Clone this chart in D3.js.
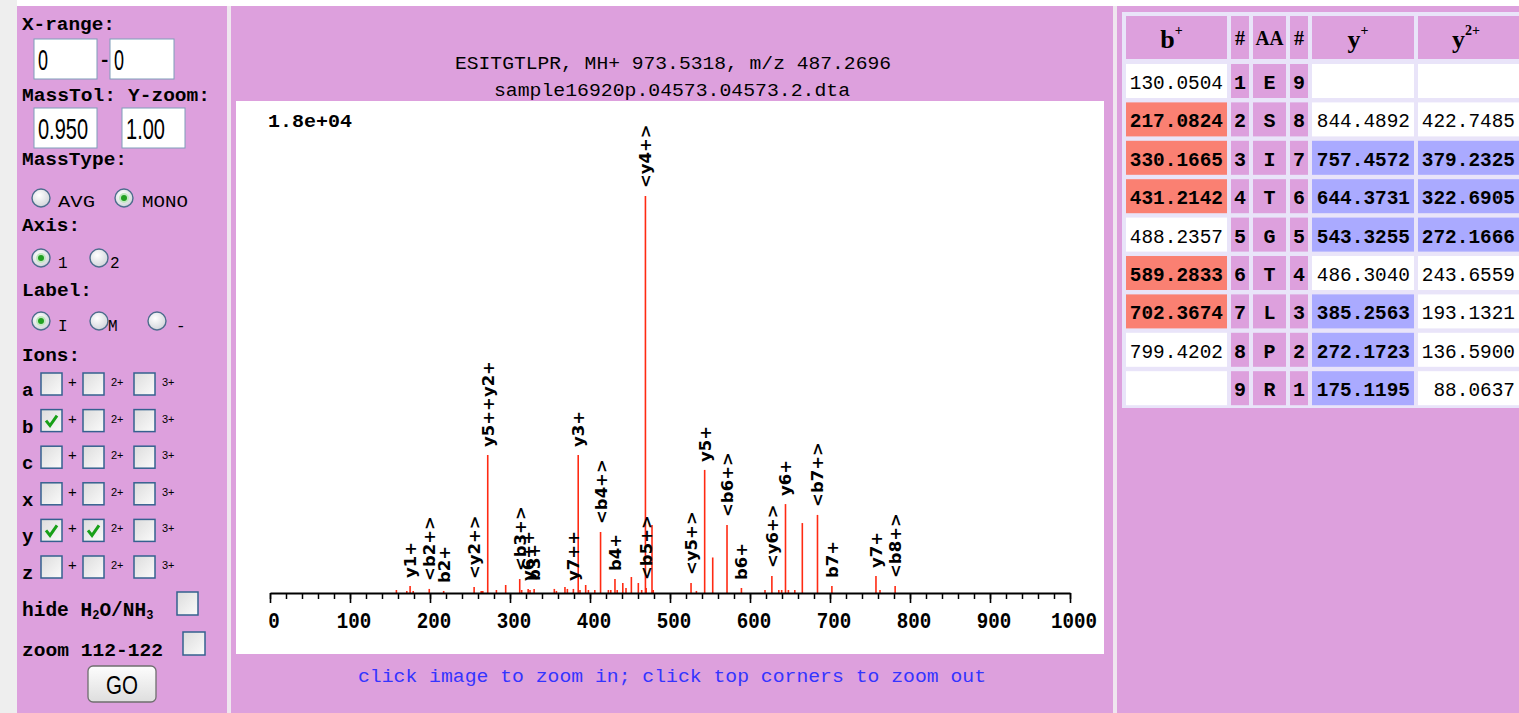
<!DOCTYPE html>
<html>
<head>
<meta charset="utf-8">
<script src="https://cdn.jsdelivr.net/npm/d3@7"></script>
<style>
  body { margin: 0; background: #fff; overflow: hidden; }
  text { white-space: pre; }
</style>
</head>
<body>
<svg id="page" width="1519" height="713"></svg>
<script>
// spectrum peaks: m/z, intensity (counts), ion label ('' = none)
const peakMz = [158, 171, 175.12, 179, 199.07, 217.08, 255.15, 264, 266, 272.17,
  283, 294.6, 312.16, 314.6, 322.69, 325, 330.17, 355.4, 358, 368.7,
  371.7, 379.23, 385.26, 387.5, 394.6, 398, 406, 413.2, 423, 426,
  431.21, 434, 441, 445, 451.7, 460.4, 464.6, 469.29, 470.22, 477.5,
  479, 526.3, 533, 543.33, 553.4, 571.27, 589.28, 618.75, 627.35, 636,
  639.6, 644.37, 648, 656, 665.4, 684.36, 702.37, 757.46, 762.5, 781.41];
const peakInt = [110, 75, 260, 75, 150, 75, 220, 75, 75, 5090,
  110, 295, 515, 110, 150, 110, 150, 150, 75, 220,
  150, 150, 5090, 110, 295, 110, 110, 2250, 110, 110,
  515, 110, 370, 185, 590, 370, 110, 14640, 185, 2510,
  110, 370, 75, 4540, 1310, 2510, 185, 110, 625, 110,
  110, 3280, 110, 110, 2580, 2880, 260, 625, 110, 260];
const peakLabel = ['', '', 'y1+', '', '<b2+>', 'b2+', '<y2+>', '', '', 'y5++y2+',
  '', '', '<b3+>', '', 'y6++', '', 'b3+', '', '', '',
  '', 'y7++', 'y3+', '', '', '', '', '<b4+>', '', '',
  'b4+', '', '', '', '', '', '', '<y4+>', '<b5+>', '',
  '', '<y5+>', '', 'y5+', '', '<b6+>', 'b6+', '', '<y6+>', '',
  '', 'y6+', '', '', '', '<b7+>', 'b7+', 'y7+', '', '<b8+>'];
const xTicks = [0, 100, 200, 300, 400, 500, 600, 700, 800, 900, 1000];
const maxLabel = '1.8e+04';
const title1 = 'ESITGTLPR, MH+ 973.5318, m/z 487.2696';
const title2 = 'sample16920p.04573.04573.2.dta';
const hint = 'click image to zoom in; click top corners to zoom out';

// fragment table
const residues = ['E', 'S', 'I', 'T', 'G', 'T', 'L', 'P', 'R'];
const bIons = [130.0504, 217.0824, 330.1665, 431.2142, 488.2357, 589.2833, 702.3674, 799.4202, null];
const yIons = [null, 844.4892, 757.4572, 644.3731, 543.3255, 486.3040, 385.2563, 272.1723, 175.1195];
const y2Ions = [null, 422.7485, 379.2325, 322.6905, 272.1666, 243.6559, 193.1321, 136.5900, 88.0637];
const bHit = [0, 1, 1, 1, 0, 1, 1, 0, 0];
const yHit = [0, 0, 1, 1, 1, 0, 1, 1, 1];
const y2Hit = [0, 0, 1, 1, 1, 0, 0, 0, 0];

// form controls
const ionTypes = ['a', 'b', 'c', 'x', 'y', 'z'];
const ionChecked = [[0, 0, 0], [1, 0, 0], [0, 0, 0], [0, 0, 0], [1, 1, 0], [0, 0, 0]];

const PLUM = '#dda0dd';
const MONO = "'Liberation Mono', 'DejaVu Sans Mono', monospace";
const svg = d3.select('#page');

function txt(g, x, y, s, o = {}) {
  const t = g.append('text').attr('x', x).attr('y', y).text(s)
    .attr('font-family', o.family || MONO)
    .attr('font-size', o.size || 19)
    .attr('font-weight', o.bold ? 'bold' : 'normal')
    .attr('fill', o.fill || '#000')
    .attr('text-anchor', o.anchor || 'start');
  if (o.width) t.attr('textLength', o.width).attr('lengthAdjust', 'spacingAndGlyphs');
  return t;
}

// gradients
const defs = svg.append('defs');
const rg = defs.append('radialGradient').attr('id', 'radio').attr('cx', '40%').attr('cy', '35%').attr('r', '70%');
rg.append('stop').attr('offset', '0%').attr('stop-color', '#ffffff');
rg.append('stop').attr('offset', '100%').attr('stop-color', '#cfd3d8');
const cg = defs.append('linearGradient').attr('id', 'cbox').attr('x1', 0).attr('y1', 0).attr('x2', 1).attr('y2', 1);
cg.append('stop').attr('offset', '0%').attr('stop-color', '#dcdcdc');
cg.append('stop').attr('offset', '100%').attr('stop-color', '#fbfbfb');
const bg = defs.append('linearGradient').attr('id', 'btn').attr('x1', 0).attr('y1', 0).attr('x2', 0).attr('y2', 1);
bg.append('stop').attr('offset', '0%').attr('stop-color', '#fdfdfd');
bg.append('stop').attr('offset', '100%').attr('stop-color', '#dedede');

// page backgrounds
svg.append('rect').attr('width', 1519).attr('height', 713).attr('fill', '#fff');
svg.append('rect').attr('x', 0).attr('y', 0).attr('width', 17).attr('height', 713).attr('fill', '#eeeeee');
svg.append('rect').attr('x', 17).attr('y', 6).attr('width', 210).attr('height', 707).attr('fill', PLUM);
svg.append('rect').attr('x', 227).attr('y', 6).attr('width', 4).attr('height', 707).attr('fill', '#efe6ef');
svg.append('rect').attr('x', 231).attr('y', 6).attr('width', 882).attr('height', 707).attr('fill', PLUM);
svg.append('rect').attr('x', 1113).attr('y', 6).attr('width', 4).attr('height', 707).attr('fill', '#efe6ef');
svg.append('rect').attr('x', 1117).attr('y', 6).attr('width', 402).attr('height', 707).attr('fill', PLUM);

// ---------- left form ----------
const form = svg.append('g');
function radio(cx, cy, on) {
  form.append('circle').attr('cx', cx).attr('cy', cy).attr('r', 9)
    .attr('fill', 'url(#radio)').attr('stroke', '#4d6d8d').attr('stroke-width', 1.4);
  if (on) {
    form.append('circle').attr('cx', cx).attr('cy', cy).attr('r', 5).attr('fill', '#bfe8bf');
    form.append('circle').attr('cx', cx).attr('cy', cy).attr('r', 3).attr('fill', '#22a022');
  }
}
function checkbox(x, y, on, w = 21, h = 22) {
  form.append('rect').attr('x', x).attr('y', y).attr('width', w).attr('height', h)
    .attr('fill', 'url(#cbox)').attr('stroke', '#35618f').attr('stroke-width', 1.5);
  if (on) {
    form.append('path').attr('d', `M${x + 5},${y + 11} L${x + 9},${y + 16} L${x + 16},${y + 6}`)
      .attr('fill', 'none').attr('stroke', '#18a018').attr('stroke-width', 3);
  }
}
function input(x, y, w, h, s, tw) {
  form.append('rect').attr('x', x).attr('y', y).attr('width', w).attr('height', h)
    .attr('fill', '#fff').attr('stroke', '#7f9db9').attr('stroke-width', 1);
  txt(form, x + 4, y + h / 2 + 11, s, { family: "'Liberation Sans', Arial, sans-serif", size: 30, width: tw });
}

txt(form, 22, 30, 'X-range:', { bold: true, width: 93 });
input(34, 39, 63, 40, '0', 10);
txt(form, 99, 66, '-', { bold: true, size: 19 });
input(110, 39, 64, 40, '0', 10);
txt(form, 22, 101, 'MassTol:', { bold: true, width: 94 });
txt(form, 128, 101, 'Y-zoom:', { bold: true, width: 82 });
input(34, 108, 63, 40, '0.950', 50);
input(122, 108, 63, 40, '1.00', 39);
txt(form, 22, 165, 'MassType:', { bold: true, width: 105 });
radio(41, 198, false); txt(form, 58, 207, 'AVG', { size: 16, width: 37 });
radio(124, 198, true); txt(form, 142, 207, 'MONO', { size: 16, width: 46 });
txt(form, 22, 231, 'Axis:', { bold: true, width: 58 });
radio(41, 258, true); txt(form, 58, 268, '1', { size: 16 });
radio(99, 258, false); txt(form, 110, 268, '2', { size: 16 });
txt(form, 22, 296, 'Label:', { bold: true, width: 70 });
radio(41, 321, true); txt(form, 58, 331, 'I', { size: 16 });
radio(99, 321, false); txt(form, 108, 331, 'M', { size: 16 });
radio(157, 321, false); txt(form, 176, 331, '-', { size: 16 });
txt(form, 22, 361, 'Ions:', { bold: true, width: 58 });

ionTypes.forEach((t, i) => {
  const top = 373 + i * 36.6;
  txt(form, 22, top + 23, t, { bold: true });
  checkbox(41, top, ionChecked[i][0]);
  txt(form, 68, top + 14, '+', { family: "'Liberation Sans', Arial, sans-serif", size: 15 });
  checkbox(83, top, ionChecked[i][1]);
  txt(form, 111, top + 13, '2+', { family: "'Liberation Sans', Arial, sans-serif", size: 11 });
  checkbox(134, top, ionChecked[i][2]);
  txt(form, 162, top + 13, '3+', { family: "'Liberation Sans', Arial, sans-serif", size: 11 });
});

const hide = txt(form, 22, 616, 'hide H', { bold: true, size: 19.5 });
hide.append('tspan').attr('font-size', 12).attr('dy', 3).text('2');
hide.append('tspan').attr('dy', -3).text('O/NH');
hide.append('tspan').attr('font-size', 12).attr('dy', 3).text('3');
checkbox(177, 592, false, 21, 23);
txt(form, 22, 656, 'zoom 112-122', { bold: true, width: 141 });
checkbox(183, 632, false, 22, 23);
form.append('rect').attr('x', 88).attr('y', 666).attr('width', 68).attr('height', 36).attr('rx', 5)
  .attr('fill', 'url(#btn)').attr('stroke', '#6f6f6f').attr('stroke-width', 1.3);
txt(form, 122, 694, 'GO', { family: "'Liberation Sans', Arial, sans-serif", size: 25, anchor: 'middle', width: 32 });

// ---------- spectrum ----------
const chart = svg.append('g');
chart.append('rect').attr('x', 236).attr('y', 101).attr('width', 868).attr('height', 553).attr('fill', '#fff');
txt(chart, 673, 69, title1, { size: 19, anchor: 'middle', width: 436 });
txt(chart, 672, 96, title2, { size: 19, anchor: 'middle', width: 356 });
txt(chart, 268, 127, maxLabel, { bold: true, size: 18, width: 84 });
txt(chart, 672, 682, hint, { size: 19, anchor: 'middle', width: 628, fill: '#3434ff' });

const x = d3.scaleLinear().domain([0, 1000]).range([270, 1070]);
const y = d3.scaleLinear().domain([0, 18000]).range([593, 105]);
const peaks = peakMz.map((m, i) => ({ mz: m, inten: peakInt[i], label: peakLabel[i] }));

chart.append('g').selectAll('line').data(peaks).join('line')
  .attr('x1', d => x(d.mz)).attr('x2', d => x(d.mz))
  .attr('y1', y(0)).attr('y2', d => y(d.inten))
  .attr('stroke', '#ff2a12').attr('stroke-width', 1.6);

// minor ticks
chart.append('g').attr('transform', `translate(0,${y(0)})`)
  .call(d3.axisBottom(x).tickValues(d3.range(0, 1001, 20)).tickSize(6).tickSizeOuter(0).tickFormat(''))
  .call(g => g.select('.domain').remove())
  .call(g => g.selectAll('.tick line').attr('stroke', '#000').attr('stroke-width', 1.5));
// major ticks + labels
chart.append('g').attr('transform', `translate(0,${y(0)})`)
  .call(d3.axisBottom(x).tickValues(xTicks).tickSize(10).tickSizeOuter(0).tickFormat(d3.format('d')))
  .call(g => g.select('.domain').attr('stroke', '#000').attr('stroke-width', 2.2))
  .call(g => g.selectAll('.tick line').attr('stroke', '#000').attr('stroke-width', 1.6))
  .call(g => g.selectAll('.tick text')
    .attr('font-family', MONO).attr('font-weight', 'bold').attr('font-size', 22)
    .attr('fill', '#000').attr('y', 35).attr('dy', 0).attr('dx', 3.5)
    .attr('textLength', d => String(d).length * 11.5).attr('lengthAdjust', 'spacingAndGlyphs'));

// ion labels
chart.append('g').selectAll('text').data(peaks.filter(d => d.label)).join('text')
  .attr('transform', d => `translate(${x(d.mz)},${y(d.inten) - 8}) rotate(-90)`)
  .attr('dy', '0.36em')
  .attr('font-family', "'DejaVu Sans', sans-serif").attr('font-weight', 'bold').attr('font-size', 16.5)
  .attr('fill', '#000')
  .text(d => d.label);

// ---------- fragment table ----------
const tbl = svg.append('g');
tbl.append('rect').attr('x', 1122).attr('y', 12).attr('width', 397).attr('height', 396).attr('fill', '#e9e4f9');
const colX = [1126, 1231, 1253, 1290, 1312, 1418];
const colW = [101, 18, 33, 18, 102, 106];
const SERIF = "'Liberation Serif', 'DejaVu Serif', serif";
colX.forEach((cx, j) => {
  tbl.append('rect').attr('x', cx).attr('y', 16).attr('width', colW[j]).attr('height', 43).attr('fill', PLUM);
});
function head(j, base, sup) {
  const t = txt(tbl, colX[j] + colW[j] / 2 - (sup ? 5 : 0), 48, base, { family: SERIF, bold: true, size: 26, anchor: 'middle' });
  if (sup) t.append('tspan').attr('font-size', 14).attr('dy', -13).text(sup);
}
head(0, 'b', '+');
txt(tbl, colX[1] + 9, 45, '#', { family: SERIF, bold: true, size: 20, anchor: 'middle' });
txt(tbl, colX[2] + 16.5, 45, 'AA', { family: SERIF, bold: true, size: 20, anchor: 'middle', width: 28 });
txt(tbl, colX[3] + 9, 45, '#', { family: SERIF, bold: true, size: 20, anchor: 'middle' });
head(4, 'y', '+');
head(5, 'y', '2+');

const rows = residues.map((r, i) => ({
  i, r,
  cells: [
    { v: bIons[i], hit: bHit[i], col: '#fa8072' },
    { v: i + 1, mid: true },
    { v: r, mid: true },
    { v: residues.length - i, mid: true },
    { v: yIons[i], hit: yHit[i], col: '#aaaaff' },
    { v: y2Ions[i], hit: y2Hit[i], col: '#aaaaff' }
  ]
}));
rows.forEach(row => {
  const top = 64 + row.i * 38.4;
  row.cells.forEach((c, j) => {
    const fill = c.mid ? PLUM : (c.hit ? c.col : '#fff');
    tbl.append('rect').attr('x', colX[j]).attr('y', top).attr('width', colW[j]).attr('height', 34).attr('fill', fill);
    if (c.mid) {
      txt(tbl, colX[j] + colW[j] / 2, top + 25, String(c.v), { bold: true, size: 20, anchor: 'middle' });
    } else if (c.v != null) {
      const s = c.v.toFixed(4);
      const right = j === 5 ? 1515 : colX[j] + colW[j] - 4;
      txt(tbl, right, top + 25, s, { bold: !!c.hit, size: 20.5, anchor: 'end', width: s.length * 11.65 });
    }
  });
});
</script>
</body>
</html>
